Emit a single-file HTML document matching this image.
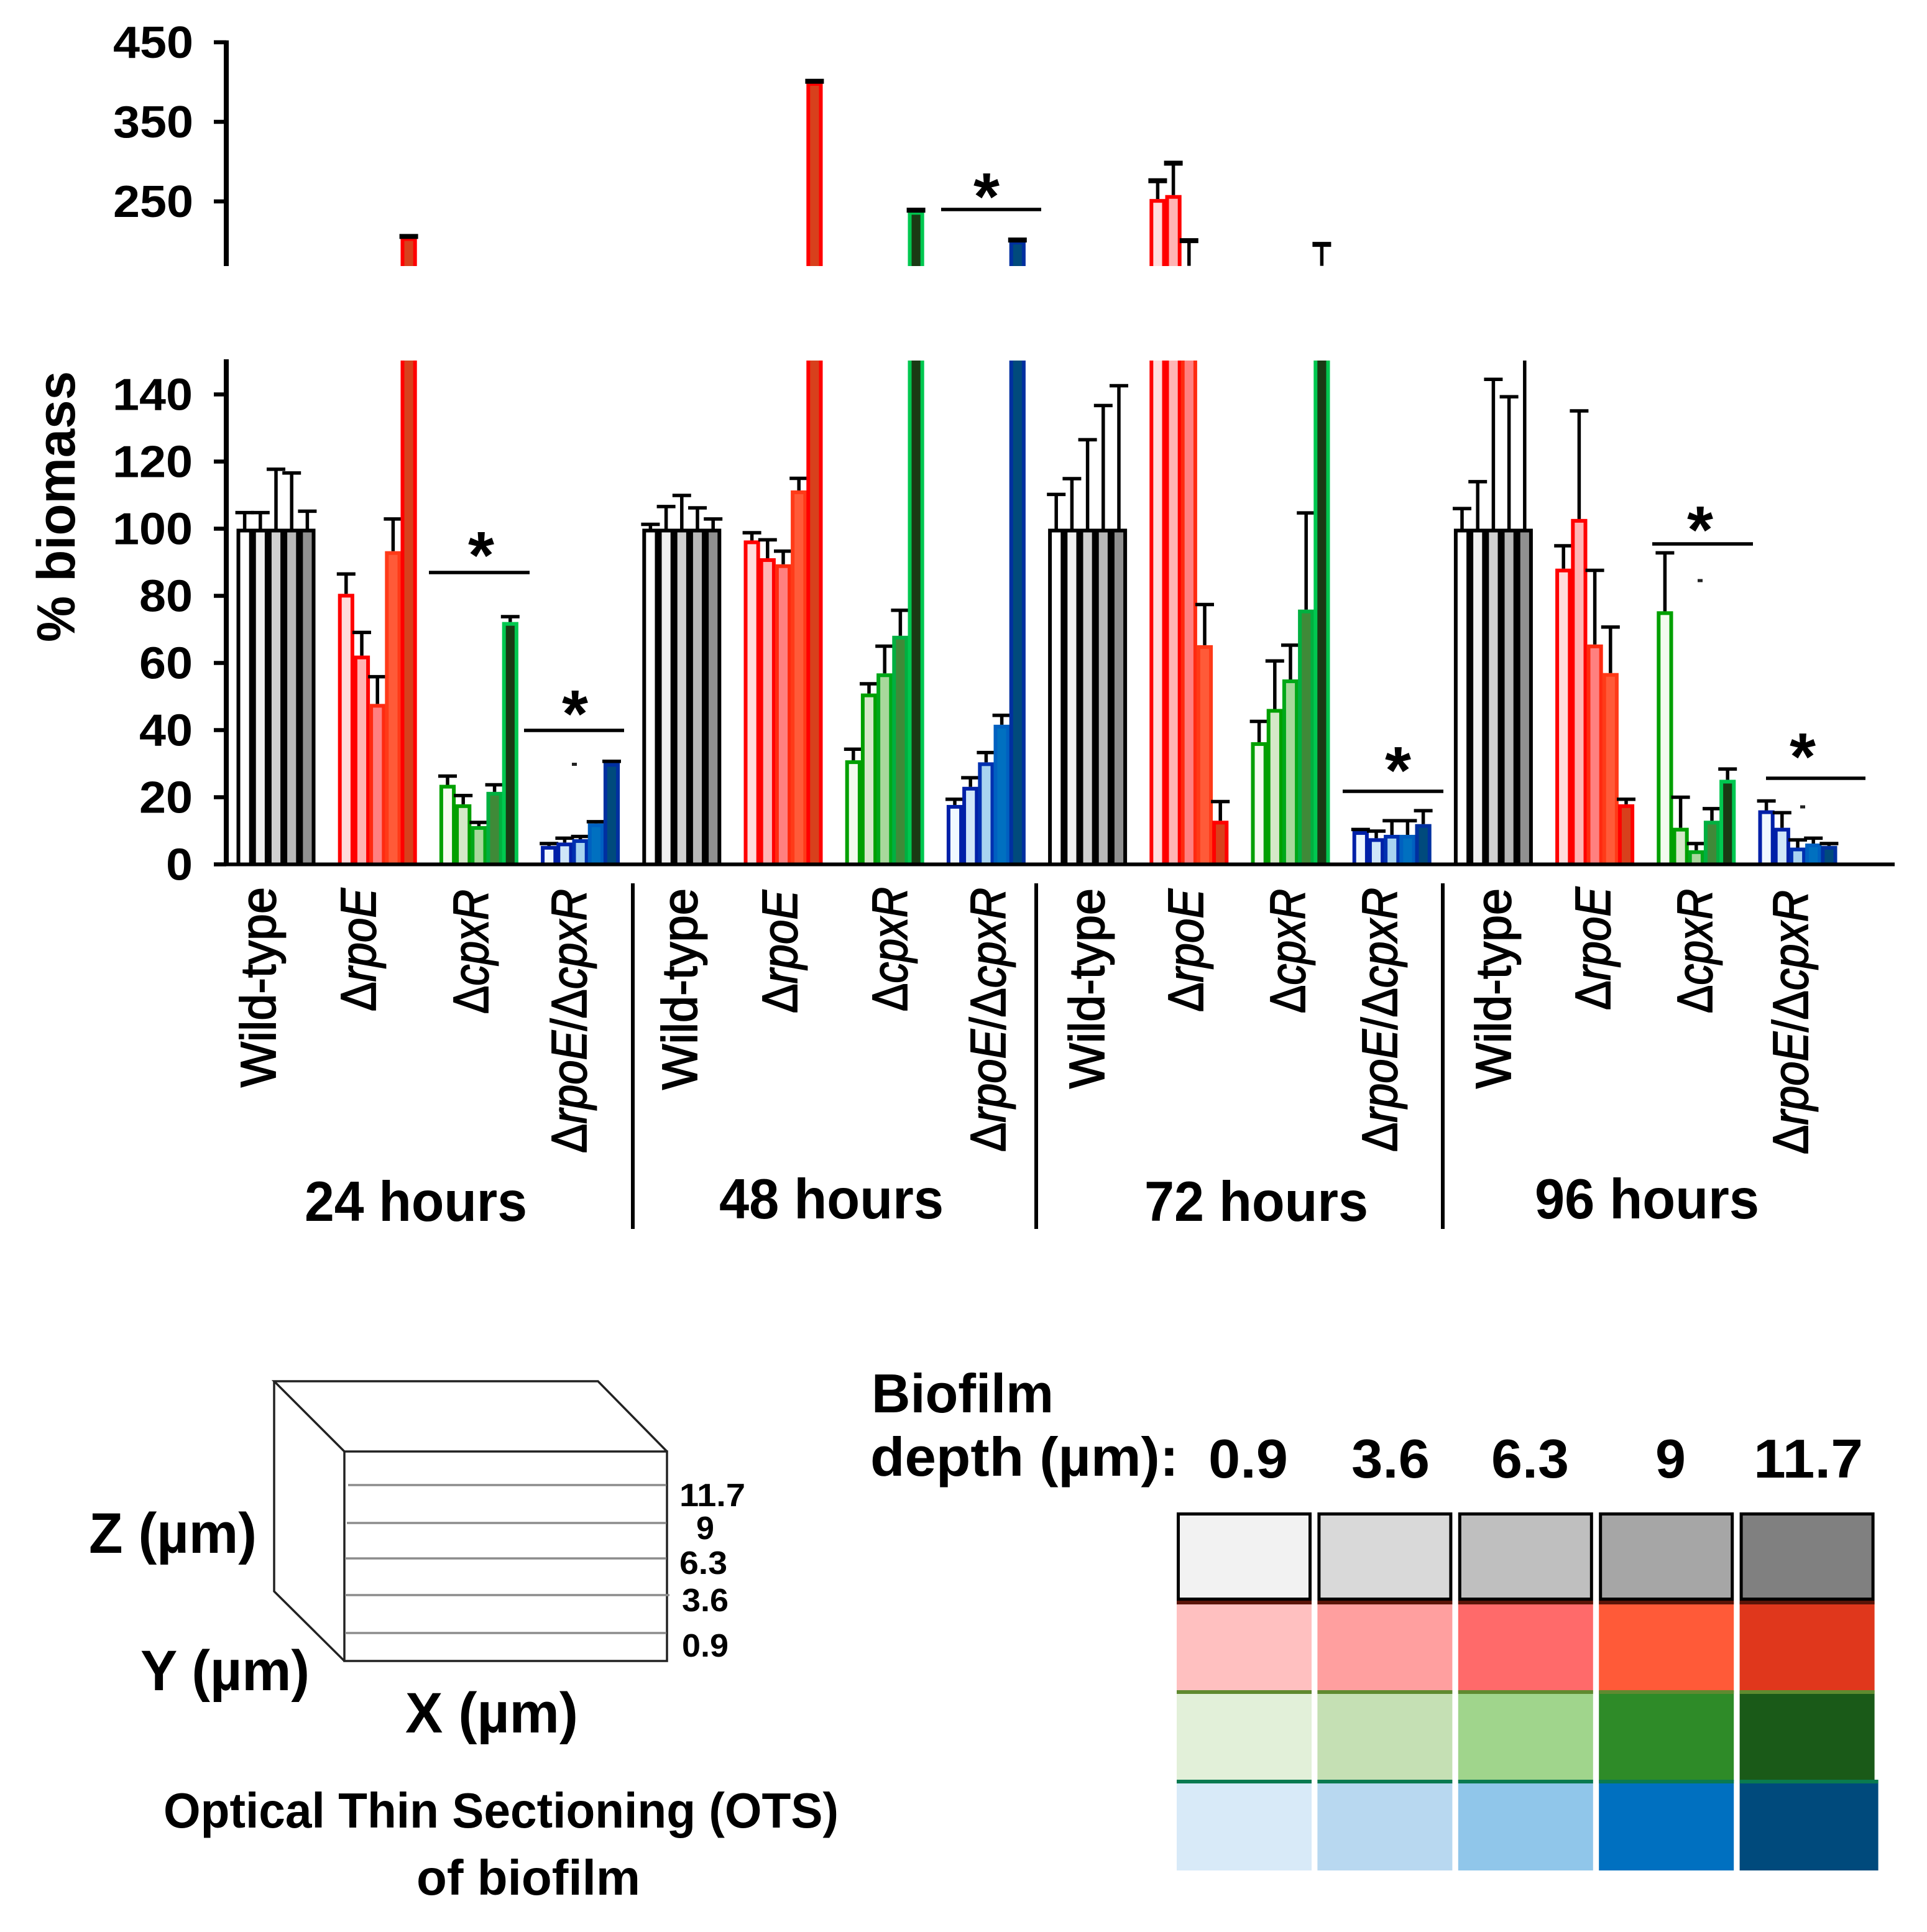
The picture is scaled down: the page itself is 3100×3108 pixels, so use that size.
<!DOCTYPE html>
<html lang="en">
<head>
<meta charset="utf-8">
<title>Biofilm biomass by optical thin section</title>
<style>
html,body{margin:0;padding:0;background:#fff;}
svg{display:block;}
text{font-family:"Liberation Sans",sans-serif;fill:#000;}
.b{font-weight:bold;}
.rot{font-size:80px;stroke:#000;stroke-width:1.8px;}
.i{font-style:italic;}
</style>
</head>
<body>
<svg id="chart" xmlns="http://www.w3.org/2000/svg" width="3100" height="3108" viewBox="0 0 3100 3108">
  <defs>
    <clipPath id="clip-main"><rect x="370" y="580" width="2700" height="812"/></clipPath>
    <clipPath id="clip-top"><rect x="370" y="0" width="2700" height="428"/></clipPath>
  </defs>
  <rect x="0" y="0" width="3100" height="3108" fill="#fff"/>

  <g id="plot"></g>

  <text class="b" font-size="86" textLength="436" lengthAdjust="spacingAndGlyphs" transform="translate(120,1033) rotate(-90)">% biomass</text>

  <g>
    <text class="rot" textLength="322" lengthAdjust="spacingAndGlyphs" transform="translate(443,1749) rotate(-90)">Wild-type</text>
    <text class="rot" textLength="198" lengthAdjust="spacingAndGlyphs" transform="translate(604,1627) rotate(-90)">Δ<tspan class="i">rpoE</tspan></text>
    <text class="rot" textLength="200" lengthAdjust="spacingAndGlyphs" transform="translate(785,1631) rotate(-90)">Δ<tspan class="i">cpxR</tspan></text>
    <text class="rot" textLength="425" lengthAdjust="spacingAndGlyphs" transform="translate(943,1855) rotate(-90)">Δ<tspan class="i">rpoE</tspan>/Δ<tspan class="i">cpxR</tspan></text>

    <text class="rot" textLength="324" lengthAdjust="spacingAndGlyphs" transform="translate(1121,1753) rotate(-90)">Wild-type</text>
    <text class="rot" textLength="198" lengthAdjust="spacingAndGlyphs" transform="translate(1282,1630) rotate(-90)">Δ<tspan class="i">rpoE</tspan></text>
    <text class="rot" textLength="200" lengthAdjust="spacingAndGlyphs" transform="translate(1459,1627) rotate(-90)">Δ<tspan class="i">cpxR</tspan></text>
    <text class="rot" textLength="425" lengthAdjust="spacingAndGlyphs" transform="translate(1617,1853) rotate(-90)">Δ<tspan class="i">rpoE</tspan>/Δ<tspan class="i">cpxR</tspan></text>

    <text class="rot" textLength="322" lengthAdjust="spacingAndGlyphs" transform="translate(1776,1751) rotate(-90)">Wild-type</text>
    <text class="rot" textLength="198" lengthAdjust="spacingAndGlyphs" transform="translate(1935,1628) rotate(-90)">Δ<tspan class="i">rpoE</tspan></text>
    <text class="rot" textLength="200" lengthAdjust="spacingAndGlyphs" transform="translate(2099,1630) rotate(-90)">Δ<tspan class="i">cpxR</tspan></text>
    <text class="rot" textLength="425" lengthAdjust="spacingAndGlyphs" transform="translate(2247,1853) rotate(-90)">Δ<tspan class="i">rpoE</tspan>/Δ<tspan class="i">cpxR</tspan></text>

    <text class="rot" textLength="322" lengthAdjust="spacingAndGlyphs" transform="translate(2430,1751) rotate(-90)">Wild-type</text>
    <text class="rot" textLength="198" lengthAdjust="spacingAndGlyphs" transform="translate(2590,1625) rotate(-90)">Δ<tspan class="i">rpoE</tspan></text>
    <text class="rot" textLength="200" lengthAdjust="spacingAndGlyphs" transform="translate(2754,1630) rotate(-90)">Δ<tspan class="i">cpxR</tspan></text>
    <text class="rot" textLength="425" lengthAdjust="spacingAndGlyphs" transform="translate(2908,1857) rotate(-90)">Δ<tspan class="i">rpoE</tspan>/Δ<tspan class="i">cpxR</tspan></text>
  </g>

  <g stroke="#000" stroke-width="6">
    <line x1="1018" y1="1421" x2="1018" y2="1977"/>
    <line x1="1667" y1="1421" x2="1667" y2="1977"/>
    <line x1="2321" y1="1421" x2="2321" y2="1977"/>
  </g>

  <g>
    <text x="490" y="1964" class="b" font-size="91" textLength="358" lengthAdjust="spacingAndGlyphs">24 hours</text>
    <text x="1157" y="1960" class="b" font-size="91" textLength="361" lengthAdjust="spacingAndGlyphs">48 hours</text>
    <text x="1841" y="1964" class="b" font-size="91" textLength="360" lengthAdjust="spacingAndGlyphs">72 hours</text>
    <text x="2469" y="1960" class="b" font-size="91" textLength="361" lengthAdjust="spacingAndGlyphs">96 hours</text>
  </g>

  <g>
    <g fill="none" stroke="#222" stroke-width="3.5">
      <rect x="554" y="2335" width="519" height="337"/>
      <polyline points="554,2335 441,2222 962,2222 1073,2335"/>
      <polyline points="441,2222 441,2560 554,2672"/>
    </g>
    <g stroke="#8c8c8c" stroke-width="3.5">
      <line x1="560" y1="2389" x2="1072" y2="2389"/>
      <line x1="558" y1="2450" x2="1072" y2="2450"/>
      <line x1="555" y1="2507" x2="1072" y2="2507"/>
      <line x1="555" y1="2566" x2="1077" y2="2566"/>
      <line x1="555" y1="2627" x2="1072" y2="2627"/>
    </g>
    <g>
      <text class="b" font-size="52" x="1093" y="2423" textLength="106" lengthAdjust="spacingAndGlyphs">11.7</text>
      <text class="b" font-size="52" x="1120" y="2476">9</text>
      <text class="b" font-size="52" x="1093" y="2532" textLength="77" lengthAdjust="spacingAndGlyphs">6.3</text>
      <text class="b" font-size="52" x="1097" y="2592" textLength="75" lengthAdjust="spacingAndGlyphs">3.6</text>
      <text class="b" font-size="52" x="1097" y="2665" textLength="75" lengthAdjust="spacingAndGlyphs">0.9</text>
    </g>
    <text class="b" font-size="92" x="143" y="2498" textLength="270" lengthAdjust="spacingAndGlyphs">Z (µm)</text>
    <text class="b" font-size="92" x="226" y="2719" textLength="272" lengthAdjust="spacingAndGlyphs">Y (µm)</text>
    <text class="b" font-size="92" x="652" y="2787" textLength="278" lengthAdjust="spacingAndGlyphs">X (µm)</text>
    <text class="b" font-size="80" x="263" y="2940" textLength="1086" lengthAdjust="spacingAndGlyphs">Optical Thin Sectioning (OTS)</text>
    <text class="b" font-size="80" x="670" y="3048" textLength="360" lengthAdjust="spacingAndGlyphs">of biofilm</text>
  </g>

  <g>
    <text class="b" font-size="88" x="1402" y="2272" textLength="293" lengthAdjust="spacingAndGlyphs">Biofilm</text>
    <text class="b" font-size="88" x="1400" y="2374" textLength="496" lengthAdjust="spacingAndGlyphs">depth (µm):</text>
    <text class="b" font-size="88" x="1944" y="2377" textLength="128" lengthAdjust="spacingAndGlyphs">0.9</text>
    <text class="b" font-size="88" x="2174" y="2377" textLength="126" lengthAdjust="spacingAndGlyphs">3.6</text>
    <text class="b" font-size="88" x="2399" y="2377" textLength="125" lengthAdjust="spacingAndGlyphs">6.3</text>
    <text class="b" font-size="88" x="2663" y="2377">9</text>
    <text class="b" font-size="88" x="2821" y="2377" textLength="176" lengthAdjust="spacingAndGlyphs">11.7</text>
    <g id="swatches"></g>
  </g>
</svg>

<script>
// ---- data (one row per strain, one entry per biofilm depth) ----
const timepoints = ['24h', '48h', '72h', '96h'];
const strains = ['wild-type', 'rpoE', 'cpxR', 'rpoE-cpxR'];
const depths = ['0.9', '3.6', '6.3', '9', '11.7'];

const values24h = [
  [100, 100, 100, 100, 100],
  [80.6, 62.2, 47.8, 93.3, 205],
  [23.7, 17.9, 11.4, 21.6, 72.2],
  [5.5, 6.5, 7.5, 12.2, 30.2]
];
const errors24h = [
  [104.8, 104.8, 117.7, 116.6, 105.2],
  [86.5, 69.1, 55.9, 102.9, 206],
  [26.3, 20.5, 12.5, 23.7, 73.8],
  [6.2, 7.8, 8.3, 12.7, 30.7]
];
const values48h = [
  [100, 100, 100, 100, 100],
  [96.5, 91.2, 89.4, 111.4, 400],
  [31, 50.9, 56.9, 68.1, 238],
  [17.7, 23.1, 30.4, 41.6, 200.6]
];
const errors48h = [
  [101.3, 106.6, 109.9, 106.2, 102.9],
  [98.8, 96.7, 93.3, 115, 401],
  [34.3, 53.8, 65, 75.7, 239],
  [19.4, 25.8, 33.3, 44.4, 201.5]
];
const values72h = [
  [100, 100, 100, 100, 100],
  [253, 258, 160, 65.3, 13],
  [36.4, 46.3, 55.1, 75.9, 160],
  [9.9, 7.8, 8.8, 8.8, 12]
];
const errors72h = [
  [110.2, 114.9, 126.5, 136.7, 142.6],
  [276, 298, 200.7, 77.4, 18.7],
  [42.6, 60.6, 65.3, 104.7, 196],
  [10.4, 9.9, 13, 13, 16]
];
const values96h = [
  [100, 100, 100, 100, 100],
  [88.1, 102.9, 65.5, 57, 17.9],
  [75.4, 10.9, 4.2, 13, 25.2],
  [16.1, 10.9, 5, 6.2, 5.5]
];
const errors96h = [
  [106, 114, 144.5, 139.3, 160],
  [94.9, 135.1, 87.6, 70.7, 19.4],
  [92.8, 20, 6.2, 16.6, 28.4],
  [18.9, 15.4, 7.3, 7.8, 6.2]
];
const mainTicks = [0, 20, 40, 60, 80, 100, 120, 140];
const topTicks = [250, 350, 450];

// ---- styling ----
const fills = [
  ['#ffffff', '#f0f0f0', '#d0d0d0', '#b8b8b8', '#909090'],
  ['#ffdcdc', '#ffb4b4', '#ff8080', '#ff5a38', '#d8401c'],
  ['#f4fbef', '#d5e8c8', '#a8d89c', '#3f8a38', '#1a3a14'],
  ['#f0f8ff', '#cfe6f8', '#a8d4f0', '#0070c0', '#004a7c']
];
const outlines = [
  ['#000', '#000', '#000', '#000', '#000'],
  ['#f00', '#f00', '#ff2a10', '#ff3a18', '#f00'],
  ['#00a000', '#00a000', '#00a818', '#00b040', '#00c850'],
  ['#0020a8', '#0020a8', '#0030b0', '#0060c0', '#0030a0']
];
const swatchFills = [
  ['#f2f2f2', '#d9d9d9', '#bfbfbf', '#a6a6a6', '#808080'],
  ['#ffc0c0', '#ff9f9f', '#ff6a6a', '#ff5a38', '#e0371c'],
  ['#e2f0d9', '#c5e0b4', '#a0d58c', '#2e8b28', '#1a5a18'],
  ['#d8eaf8', '#b8d8f0', '#90c6ea', '#0070c0', '#004a7c']
];
const swatchEdges = ['#000', '#5a1408', '#5f8a30', '#0a7a50'];

// ---- axis functions ----
const yMain = v => 1390.5 - v * 5.4;
const yTop = v => 324 - (v - 250) * 1.28;
const TOP_MIN = 169;
const BAR_W = 25.2;
const groupX = g => 381 + g * 163.2;
const barX = (g, b) => groupX(g) + b * BAR_W;

const NS = 'http://www.w3.org/2000/svg';
const plot = document.getElementById('plot');
function mk(tag, attrs, parent) {
  const el = document.createElementNS(NS, tag);
  for (const k in attrs) el.setAttribute(k, attrs[k]);
  parent.appendChild(el);
  return el;
}

// ---- bars ----
const allValues = [values24h, values48h, values72h, values96h];
const allErrors = [errors24h, errors48h, errors72h, errors96h];
const mainLayer = mk('g', { 'clip-path': 'url(#clip-main)' }, plot);


const topLayer = mk('g', { 'clip-path': 'url(#clip-top)' }, plot);



function drawBar(layer, x, yv, yb, fill, stroke, name) {
  const sw = 6;
  const r = mk('rect', {
    x: x + sw / 2 - 0.5, y: yv + sw / 2,
    width: BAR_W - sw + 1, height: Math.max(0, yb - yv),
    fill: fill, stroke: stroke, 'stroke-width': sw
  }, layer);
  
  
}
function drawError(layer, cx, y0, y1, capH, name) {
  const g = mk('g', { stroke: '#000' }, layer);
  
  
  mk('line', { x1: cx, x2: cx, y1: y0, y2: y1, 'stroke-width': 5.5 }, g);
  mk('line', { x1: cx - 15, x2: cx + 15, y1: y1, y2: y1, 'stroke-width': capH }, g);
}

timepoints.forEach((t, ti) => {
  strains.forEach((s, si) => {
    const g = ti * 4 + si;
    depths.forEach((d, di) => {
      const v = allValues[ti][si][di];
      const e = allErrors[ti][si][di];
      const x = barX(g, di);
      const cx = x + BAR_W / 2;
      const id = t + '-' + s + '-' + d;
      drawBar(mainLayer, x, yMain(v), 1390, fills[si][di], outlines[si][di], 'bar-' + id);
      if (v < 150) drawError(mainLayer, cx, yMain(v), yMain(e), 5.5, 'error-bar-' + id);
      if (v > TOP_MIN) drawBar(topLayer, x, yTop(v), 440, fills[si][di], outlines[si][di], 'bar-upper-' + id);
      if (e > TOP_MIN && v >= 150) drawError(topLayer, cx, yTop(Math.max(v, TOP_MIN)), yTop(e), 8, 'error-bar-upper-' + id);
    });
  });
});

// ---- axes ----
function axisLine(name, x1, y1, x2, y2, w) {
  const l = mk('line', { x1, y1, x2, y2, stroke: '#000', 'stroke-width': w }, plot);
  
  
}
axisLine('y-axis-main', 364, 578, 364, 1393, 8);
axisLine('y-axis-upper', 364, 65, 364, 428, 8);
axisLine('x-axis', 344, 1390.5, 3048, 1390.5, 6);

function tick(value, y, rightEdge, name) {
  axisLine('tick-' + name, 344, y, 364, y, 6.5);
  const label = String(value);
  const t = mk('text', {
    x: rightEdge - label.length * 43, y: y + 25,
    'font-size': 72, 'font-weight': 'bold',
    textLength: label.length * 43, lengthAdjust: 'spacingAndGlyphs'
  }, plot);
  
  
  t.textContent = label;
}
mainTicks.forEach(v => tick(v, yMain(v), 310, String(v)));
topTicks.forEach(v => tick(v, yTop(v), 311, String(v)));

// ---- significance brackets ----
const brackets = [
  ['24h-cpxR', 690, 852, 921, 774, 880],
  ['24h-double', 843, 1004, 1175, 925, 1135],
  ['48h-double', 1514, 1675, 337, 1587, 303],
  ['72h-double', 2160, 2322, 1273, 2249, 1226],
  ['96h-cpxR', 2658, 2820, 875, 2735, 839],
  ['96h-double', 2841, 3001, 1252, 2900, 1204]
];
brackets.forEach(b => {
  axisLine('significance-line-' + b[0], b[1], b[3], b[2], b[3], 5.5);
  const s = mk('text', {
    x: b[4], y: b[5] + 50, 'font-size': 108, 'font-weight': 'bold', 'text-anchor': 'middle'
  }, plot);
  
  
  s.textContent = '*';
});

// ---- stray specks in the source figure ----
[[924, 1229.5], [2735, 934], [2900, 1298]].forEach((p, i) => {
  const c = mk('rect', { x: p[0] - 4, y: p[1] - 2.5, width: 8, height: 5, fill: '#222' }, plot);
  
  
});

// ---- depth colour swatches ----
const swatches = document.getElementById('swatches');
swatchFills.forEach((row, ri) => {
  row.forEach((color, ci) => {
    const left = 1893 + ci * 226.4;
    const top = 2433 + ri * 144;
    const extra = ri === 3 && ci === 4 ? 6 : 0;
    if (ri === 0) {
      const r = mk('rect', {
        x: left + 2.5, y: top + 2.5, width: 212, height: 137,
        fill: color, stroke: '#000', 'stroke-width': 5
      }, swatches);
      
      
    } else {
      const r = mk('rect', {
        x: left, y: top - 1, width: 217 + extra, height: 145,
        fill: color
      }, swatches);
      
      
      const edge = mk('rect', {
        x: left, y: top - 2, width: 217 + extra, height: 6,
        fill: swatchEdges[ri]
      }, swatches);
      
      
    }
  });
});
</script>
</body>
</html>
